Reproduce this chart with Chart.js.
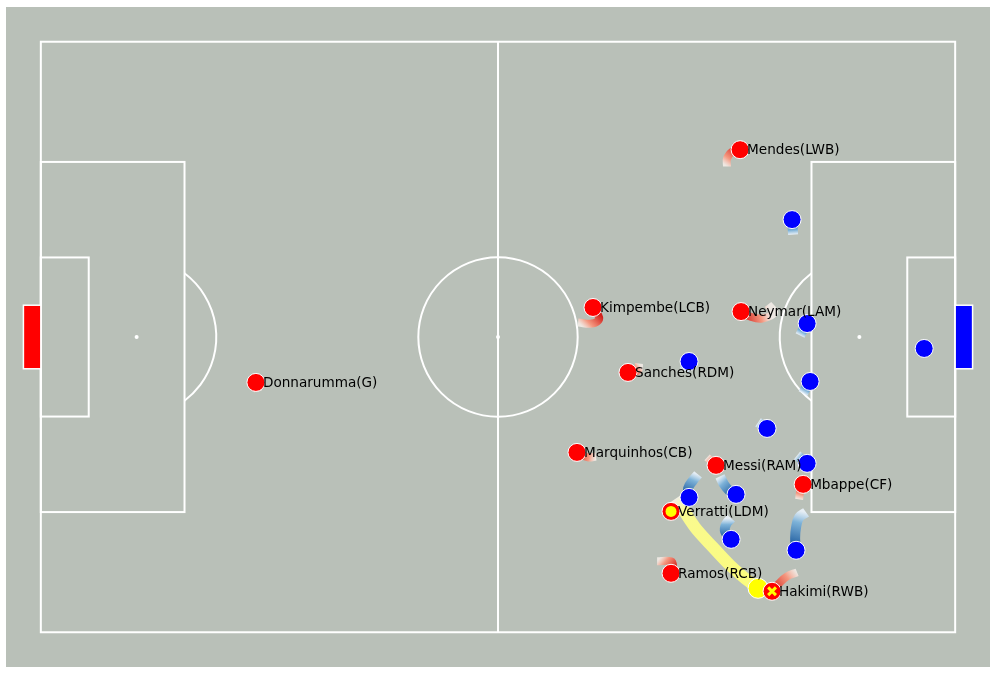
<!DOCTYPE html>
<html>
<head>
<meta charset="utf-8">
<script src="https://cdn.jsdelivr.net/npm/chart.js@4.4.1/dist/chart.umd.min.js"></script>
<style>
html,body{margin:0;padding:0;background:#fff;}
#wrap{width:996px;height:674px;position:relative;}
</style>
</head>
<body>
<div id="wrap"><canvas id="c"></canvas></div>
<script>
// Pitch dimensions (metres)
const PITCH_LENGTH = 105;
const PITCH_WIDTH = 68;

// Red team (labelled)
const redNames = ['Donnarumma(G)','Kimpembe(LCB)','Neymar(LAM)','Sanches(RDM)','Marquinhos(CB)','Messi(RAM)','Mbappe(CF)','Verratti(LDM)','Ramos(RCB)','Hakimi(RWB)','Mendes(LWB)'];
const redX = [24.70, 63.41, 80.41, 67.43, 61.57, 77.54, 87.54, 72.37, 72.37, 83.97, 80.30];
const redY = [28.77, 37.40, 36.93, 29.92, 20.71, 19.22, 17.03, 13.92, 6.79, 4.72, 55.57];
const passerIndex = 7;   // Verratti
const receiverIndex = 9; // Hakimi

// Blue team
const blueX = [86.27, 88.00, 101.44, 74.44, 88.34, 83.40, 88.00, 79.84, 74.44, 79.27, 86.73];
const blueY = [47.52, 35.55, 32.68, 31.18, 28.88, 23.47, 19.45, 15.88, 15.53, 10.70, 9.44];

// Ball
const ballX = [82.37];
const ballY = [5.06];
const ballTrailX = [72.95, 75.13, 77.20, 79.15, 80.87];
const ballTrailY = [15.42, 12.08, 9.78, 7.71, 6.21];

// Movement trails (earlier positions, oldest first)
const redTrails = [
  [[24.93,27.73]],
  [[61.70,35.67],[63.31,35.55],[64.12,36.13]],
  [[83.51,37.74],[84.20,36.82],[82.83,36.13],[81.45,36.36]],
  [[68.69,30.95],[68.58,30.15]],
  [[63.76,20.25],[62.84,20.14]],
  [[76.51,20.14]],
  [[87.08,15.30],[87.19,16.11]],
  [],
  [[70.77,8.17],[72.37,8.17],[72.60,7.59]],
  [[86.85,6.90],[85.70,6.44],[84.78,5.64]],
  [[78.80,53.62],[78.80,54.54],[79.38,55.34]]
];
const blueTrails = [
  [[86.39,45.79],[86.33,46.66]],
  [[87.19,34.17],[87.54,34.86]],
  [],
  [[73.87,30.15]],
  [[87.54,27.50],[87.88,28.19]],
  [[82.37,24.16]],
  [[86.85,20.37]],
  [[78.00,17.95],[78.46,17.03],[79.03,16.34]],
  [[75.47,18.18],[74.90,17.49],[74.33,16.57]],
  [[79.27,13.12],[78.69,12.43],[78.58,11.62]],
  [[87.88,13.81],[87.08,13.23],[86.73,12.08],[86.62,10.82]]
];

function gradientColor(stops){
  return function(ctx){
    const chart = ctx.chart;
    if(!chart.chartArea || !chart.scales.x) return stops[stops.length-1][1];
    const d = chart.data.datasets[ctx.datasetIndex].data;
    const a = d[0], b = d[d.length-1];
    const xs = chart.scales.x, ys = chart.scales.y;
    const g = chart.ctx.createLinearGradient(xs.getPixelForValue(a.x), ys.getPixelForValue(a.y), xs.getPixelForValue(b.x), ys.getPixelForValue(b.y));
    stops.forEach(s => g.addColorStop(s[0], s[1]));
    return g;
  };
}
const redStops = [[0,'rgba(255,245,240,0.75)'],[0.35,'rgba(248,150,125,0.95)'],[1,'rgba(210,30,25,1)']];
const blueStops = [[0,'rgba(238,246,255,0.85)'],[0.3,'rgba(125,178,216,1)'],[1,'rgba(18,80,150,1)']];
const ballStops = [[0,'rgba(255,250,240,0.8)'],[0.12,'rgba(255,255,140,0.92)'],[1,'rgba(255,255,120,0.95)']];

const datasets = [];
redTrails.forEach((t,i) => {
  if(!t.length) return;
  const data = t.map(p => ({x:p[0], y:p[1]})).concat([{x:redX[i], y:redY[i]}]);
  datasets.push({data, showLine:true, pointRadius:0, borderWidth:8, tension:0.4, borderCapStyle:'butt', borderJoinStyle:'round', borderColor:gradientColor(redStops), order:20});
});
blueTrails.forEach((t,i) => {
  if(!t.length) return;
  const data = t.map(p => ({x:p[0], y:p[1]})).concat([{x:blueX[i], y:blueY[i]}]);
  datasets.push({data, showLine:true, pointRadius:0, borderWidth:10, tension:0.4, borderCapStyle:'butt', borderJoinStyle:'round', borderColor:gradientColor(blueStops), order:20});
});
datasets.push({
  data: ballTrailX.map((x,i)=>({x, y:ballTrailY[i]})).concat([{x:ballX[0], y:ballY[0]}]),
  showLine:true, pointRadius:0, borderWidth:12, tension:0.3, borderCapStyle:'butt', borderColor:gradientColor(ballStops), order:15
});
datasets.push({data: ballX.map((x,i)=>({x, y:ballY[i]})), pointRadius:10, backgroundColor:'#ffff00', borderColor:'#ffffff', borderWidth:1, order:12});
datasets.push({data: blueX.map((x,i)=>({x, y:blueY[i]})), pointRadius:9, backgroundColor:'#0000ff', borderColor:'#ffffff', borderWidth:1, order:10});
datasets.push({data: redX.map((x,i)=>({x, y:redY[i]})), pointRadius:9, backgroundColor:'#ff0000', borderColor:'#ffffff', borderWidth:1, order:9});
datasets.push({data: [{x:redX[passerIndex], y:redY[passerIndex]}], pointRadius:5.5, backgroundColor:'#ffff00', borderColor:'#ffff00', borderWidth:0, order:8});
datasets.push({data: [{x:redX[receiverIndex], y:redY[receiverIndex]}], pointStyle:'crossRot', pointRadius:5.5, borderColor:'#ffff00', borderWidth:3, order:7});

const pitchPlugin = {
  id:'pitch',
  beforeDatasetsDraw(chart){
    const c = chart.ctx, a = chart.chartArea, xs = chart.scales.x, ys = chart.scales.y;
    const X = v => xs.getPixelForValue(v), Y = v => ys.getPixelForValue(v);
    c.save();
    c.fillStyle = '#b9c0b8';
    c.fillRect(a.left, a.top, a.right-a.left, a.bottom-a.top);
    c.strokeStyle = '#ffffff';
    c.lineWidth = 2;
    const L = PITCH_LENGTH, W = PITCH_WIDTH, mid = W/2;
    const rect = (x0,y0,x1,y1) => { c.strokeRect(X(x0), Y(y1), X(x1)-X(x0), Y(y0)-Y(y1)); };
    rect(0,0,L,W);
    c.beginPath(); c.moveTo(X(L/2), Y(0)); c.lineTo(X(L/2), Y(W)); c.stroke();
    const boxW = 40.32, sixW = 18.32;
    rect(0, mid-boxW/2, 16.5, mid+boxW/2);
    rect(L-16.5, mid-boxW/2, L, mid+boxW/2);
    rect(0, mid-sixW/2, 5.5, mid+sixW/2);
    rect(L-5.5, mid-sixW/2, L, mid+sixW/2);
    const r = X(9.15) - X(0);
    c.beginPath(); c.arc(X(L/2), Y(mid), r, 0, Math.PI*2); c.stroke();
    const ang = Math.acos(5.5/9.15);
    c.beginPath(); c.arc(X(11), Y(mid), r, -ang, ang); c.stroke();
    c.beginPath(); c.arc(X(L-11), Y(mid), r, Math.PI-ang, Math.PI+ang); c.stroke();
    c.fillStyle = '#ffffff';
    [[L/2,mid],[11,mid],[L-11,mid]].forEach(p => { c.beginPath(); c.arc(X(p[0]), Y(p[1]), 2, 0, Math.PI*2); c.fill(); });
    // goals
    const gw = 7.32;
    c.lineWidth = 1.5;
    c.fillStyle = '#ff0000';
    c.fillRect(X(-2), Y(mid+gw/2), X(0)-X(-2), Y(mid-gw/2)-Y(mid+gw/2));
    c.strokeRect(X(-2), Y(mid+gw/2), X(0)-X(-2), Y(mid-gw/2)-Y(mid+gw/2));
    c.fillStyle = '#0000ff';
    c.fillRect(X(L), Y(mid+gw/2), X(L+2)-X(L), Y(mid-gw/2)-Y(mid+gw/2));
    c.strokeRect(X(L), Y(mid+gw/2), X(L+2)-X(L), Y(mid-gw/2)-Y(mid+gw/2));
    c.restore();
  },
  afterDatasetsDraw(chart){
    const c = chart.ctx, xs = chart.scales.x, ys = chart.scales.y;
    c.save();
    c.font = '13.6px "DejaVu Sans"';
    c.fillStyle = '#000000';
    c.textAlign = 'left';
    c.textBaseline = 'middle';
    redNames.forEach((n,i) => {
      c.fillText(n, xs.getPixelForValue(redX[i]) + 7, ys.getPixelForValue(redY[i]) + 1);
    });
    c.restore();
  }
};

new Chart(document.getElementById('c'), {
  type:'scatter',
  data:{datasets},
  options:{
    responsive:true,
    maintainAspectRatio:false,
    animation:false,
    layout:{autoPadding:false, padding:{left:6, right:6, top:7, bottom:7}},
    plugins:{legend:{display:false}, tooltip:{enabled:false}},
    scales:{
      x:{type:'linear', min:-4, max:109, display:false},
      y:{type:'linear', min:-4, max:72, display:false}
    }
  },
  plugins:[pitchPlugin]
});
</script>
</body>
</html>
